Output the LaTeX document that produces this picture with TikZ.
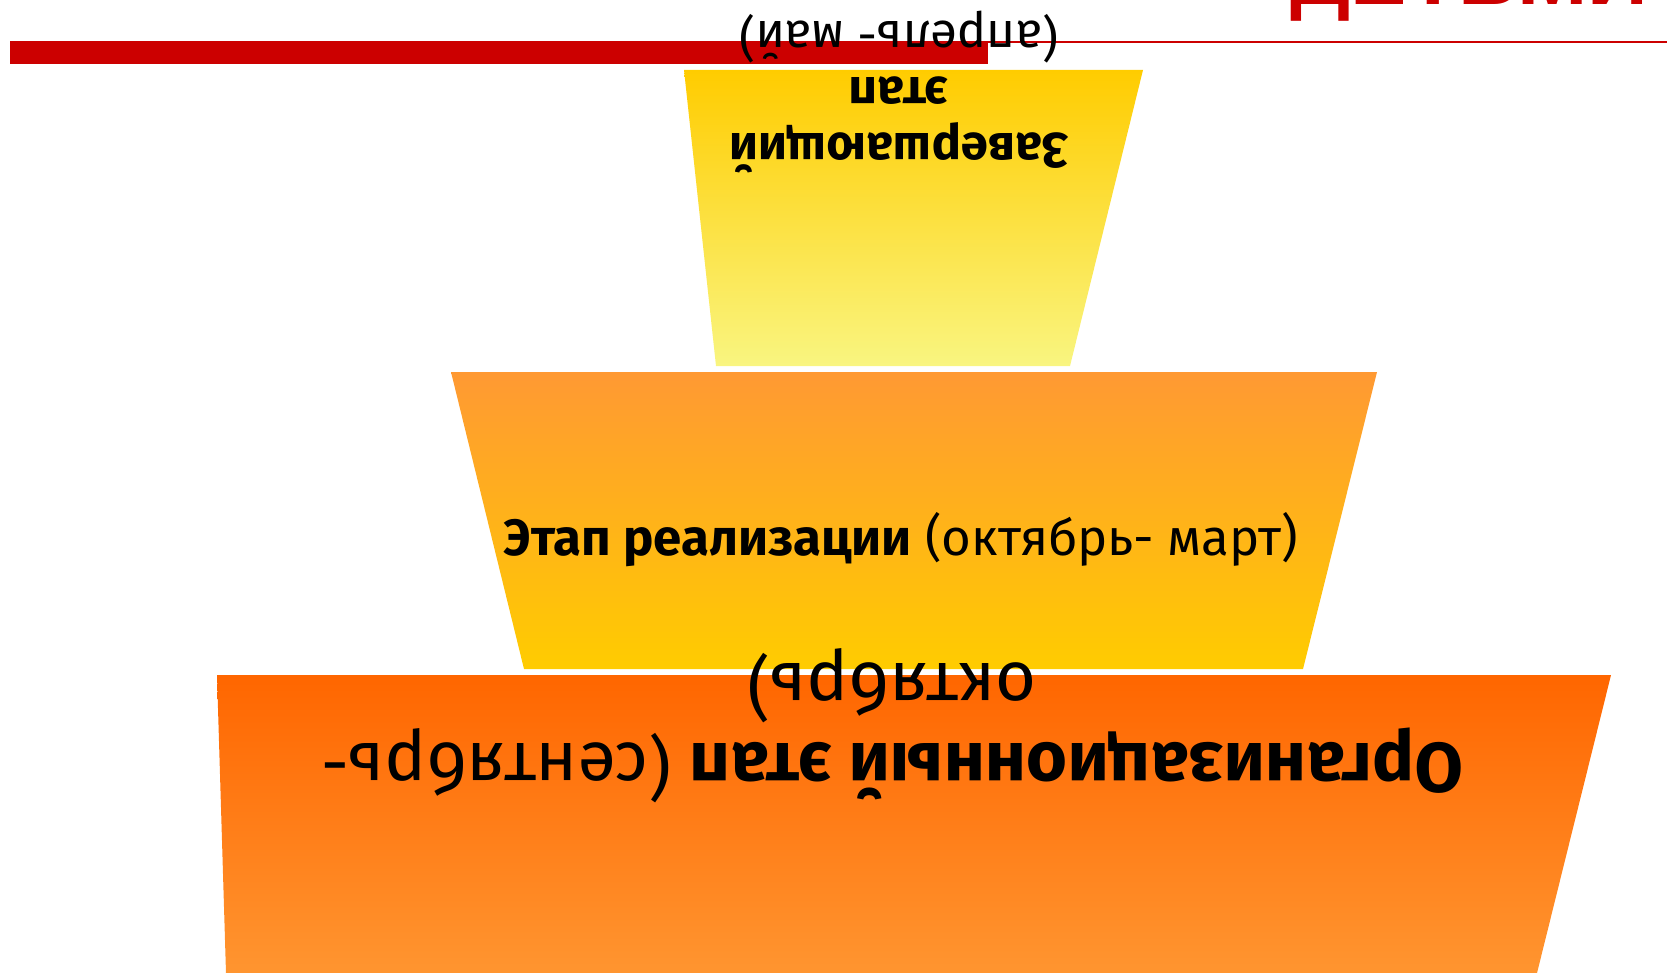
\documentclass[tikz,border=0pt]{standalone}
\usepackage{fontspec}
\setmainfont{Fira Sans}
\newfontfamily\headfont{Liberation Sans}
\usetikzlibrary{positioning}

\definecolor{redbar}{HTML}{CC0000}
\definecolor{orgtop}{HTML}{FF6600}
\definecolor{orgbot}{HTML}{FF9530}
\definecolor{midtop}{HTML}{FF9933}
\definecolor{midbot}{HTML}{FFCC00}
\definecolor{fintop}{HTML}{FFCC00}
\definecolor{finbot}{HTML}{F9F580}

\begin{document}
\begin{tikzpicture}[x=0.01cm, y=-0.01cm,
    stagetxt/.style={align=center, inner sep=0pt, text=black},
    flipped/.style={stagetxt, rotate=180},
    headtxt/.style={anchor=base west, inner sep=0pt, text=redbar, font=\headfont\bfseries\fontsize{24}{28}\selectfont},
]
\useasboundingbox (0,0) rectangle (1667,973);

% Header: clipped title and red rule
\node[headtxt] (head) at (1290,5) {ДЕТЬМИ};
\fill[redbar] (10,41) rectangle (988,64);
\fill[redbar] (988,41) rectangle (1667,43);

% Stages (bottom to top)
\shade[top color=orgtop, bottom color=orgbot] (217,675) -- (1611,675) -- (1537,973) -- (226,973) -- cycle;
\shade[top color=midtop, bottom color=midbot] (451,372) -- (1377,372) -- (1303,669) -- (524,669) -- cycle;
\shade[top color=fintop, bottom color=finbot] (684,70) -- (1143,70) -- (1070,366) -- (716,366) -- cycle;

% Stage labels
\node[flipped, font=\fontsize{20}{22.7}\selectfont] (organize) at (892,726)
    {\textbf{Организационный этап} (сентябрь-\\ октябрь)};
\node[stagetxt, anchor=base, font=\fontsize{14.5}{16}\selectfont] (realize) at (901,555)
    {\textbf{Этап реализации} (октябрь- март)};
\node[flipped, font=\fontsize{14}{16}\selectfont] (final) at (899,92)
    {\textbf{Завершающий}\\ \textbf{этап}\\ (апрель- май)};

\end{tikzpicture}
\end{document}
